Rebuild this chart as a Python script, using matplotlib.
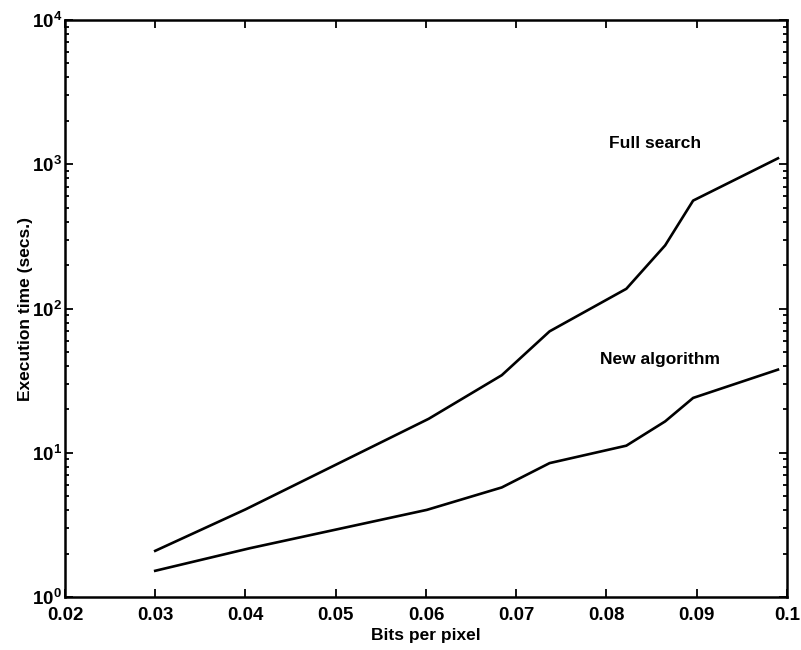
import matplotlib
matplotlib.use("Agg")
import matplotlib.pyplot as plt
from matplotlib.ticker import LogLocator, FixedLocator

plt.rcParams['font.family'] = ['Liberation Sans', 'DejaVu Sans']
plt.rcParams['font.weight'] = 'bold'
plt.rcParams['mathtext.fontset'] = 'custom'
plt.rcParams['mathtext.rm'] = 'Liberation Sans:bold'
plt.rcParams['mathtext.it'] = 'Liberation Sans:bold'
plt.rcParams['mathtext.bf'] = 'Liberation Sans:bold'

# execution time vs. bit rate
full_bpp = [0.030, 0.0400, 0.0603, 0.0684, 0.0737, 0.0822, 0.0865, 0.0896, 0.0990]
full_time = [2.09, 4.05, 17.2, 34.5, 69.5, 137, 274, 560, 1100]

new_bpp = [0.030, 0.0405, 0.0601, 0.0684, 0.0737, 0.0822, 0.0865, 0.0896, 0.0990]
new_time = [1.52, 2.18, 4.02, 5.75, 8.48, 11.2, 16.5, 24.0, 37.7]

x_ticks = [0.02, 0.03, 0.04, 0.05, 0.06, 0.07, 0.08, 0.09, 0.1]
x_labels = ['0.02', '0.03', '0.04', '0.05', '0.06', '0.07', '0.08', '0.09', '0.1']

fig = plt.figure(figsize=(8.01, 6.5), dpi=100)
ax = fig.add_axes([0.0811, 0.0815, 0.9014, 0.8877])

ax.plot(full_bpp, full_time, color='black', lw=1.9)
ax.plot(new_bpp, new_time, color='black', lw=1.9)

ax.set_yscale('log')
ax.set_xlim(0.02, 0.1)
ax.set_ylim(1, 1e4)
ax.xaxis.set_major_locator(FixedLocator(x_ticks))
ax.set_xticklabels(x_labels)
ax.yaxis.set_major_locator(LogLocator(base=10, numticks=10))
ax.yaxis.set_minor_locator(LogLocator(base=10, subs=range(2, 10), numticks=20))

ax.tick_params(which='both', direction='in', top=True, right=True,
               labelsize=13.5, width=1.3)
ax.tick_params(axis='x', pad=7)
ax.tick_params(axis='y', pad=2)
ax.tick_params(which='major', length=6)
ax.tick_params(which='minor', length=3)
for s in ax.spines.values():
    s.set_linewidth(1.8)

ax.set_xlabel('Bits per pixel', fontsize=12.5, fontweight='bold', labelpad=3)
ax.set_ylabel('Execution time (secs.)', fontsize=12.5, fontweight='bold', labelpad=-1)

ax.text(0.0854, 1400, 'Full search', fontsize=12.5, fontweight='bold',
        ha='center', va='center')
ax.text(0.0859, 44, 'New algorithm', fontsize=12.5, fontweight='bold',
        ha='center', va='center')

fig.savefig('out.png', dpi=100)
